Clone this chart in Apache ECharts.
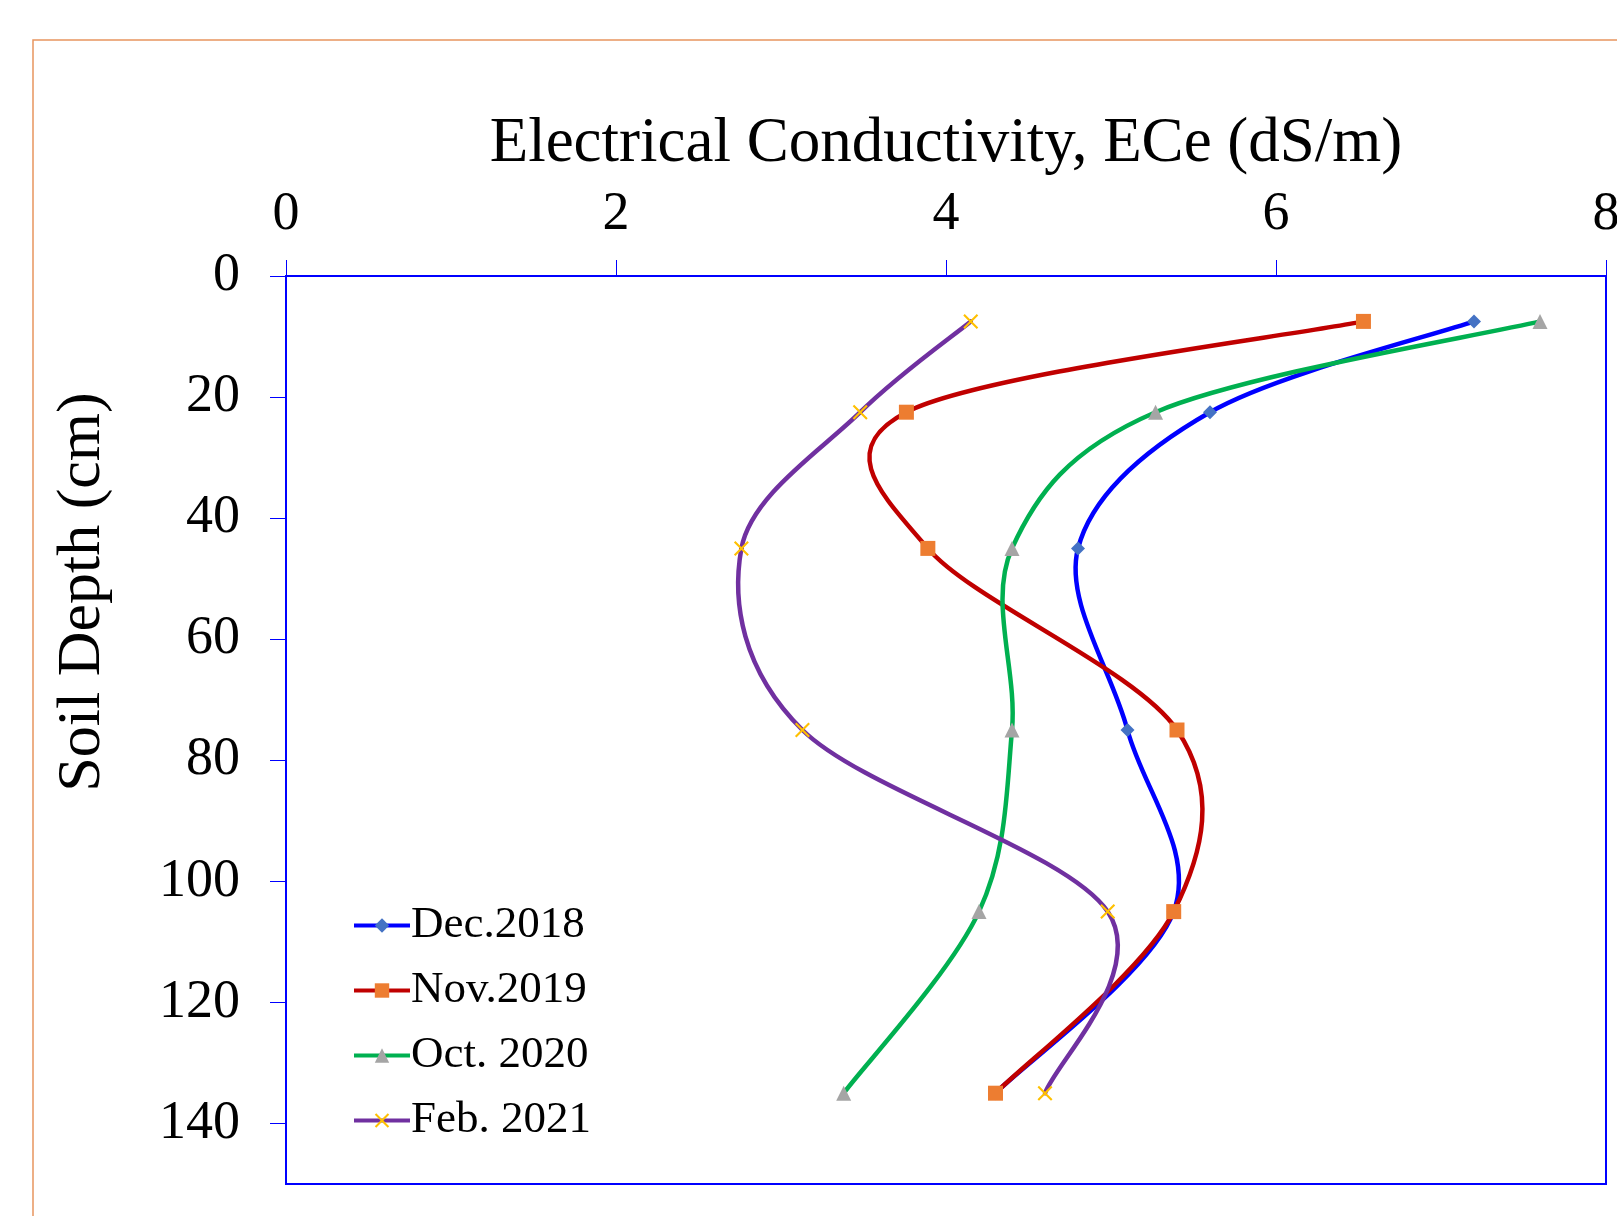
<!DOCTYPE html>
<html>
<head>
<meta charset="utf-8">
<script src="https://cdn.jsdelivr.net/npm/echarts@6/dist/echarts.min.js"></script>
<style>
  html, body { margin: 0; padding: 0; background: #fff; }
  #chart { width: 1617px; height: 1216px; }
</style>
</head>
<body>
<div id="chart"></div>
<script>
// depth of each sample (cm)
const depths = [7.5, 22.5, 45, 75, 105, 135];
const depthTicks = [0, 20, 40, 60, 80, 100, 120, 140];

// ECe values (dS/m)
const dec2018 = [7.20, 5.60, 4.80, 5.10, 5.38, 4.30];
const nov2019 = [6.53, 3.76, 3.89, 5.40, 5.38, 4.30];
const oct2020 = [7.60, 5.27, 4.40, 4.40, 4.20, 3.38];
const feb2021 = [4.15, 3.48, 2.76, 3.13, 4.98, 4.60];

const seriesNames = ['Dec.2018', 'Nov.2019', 'Oct. 2020', 'Feb. 2021'];
const lineColors = ['#0000FF', '#C00000', '#00B050', '#7030A0'];

const fontName = 'Liberation Serif';
const axisBlue = '#0000FF';
const xMark = 'path://M0,1L1,0L5,4L9,0L10,1L6,5L10,9L9,10L5,6L1,10L0,9L4,5Z';

const chart = echarts.init(document.getElementById('chart'));

function profile(values) {
  return values.map((v, i) => [v, depths[i]]);
}

// markers (and legend icon) for one date
function markerSeries(name, values, symbol, symbolColor, size, color) {
  return {
    name: name,
    type: 'line',
    data: profile(values),
    symbol: symbol,
    symbolSize: size,
    showAllSymbol: true,
    lineStyle: { color: color, width: 4, opacity: 0 },
    itemStyle: { color: symbolColor },
    z: 4
  };
}

// smooth curve like the spreadsheet one: each segment is a bezier
// whose handles follow the neighbouring points (1/6 of the chord)
function curveSeries(name, values, color) {
  const pts = profile(values);
  return {
    name: name,
    type: 'custom',
    silent: true,
    z: 2,
    data: pts.slice(0, -1),
    encode: { x: 0, y: 1 },
    renderItem: function (params, api) {
      const i = params.dataIndex;
      const c = pts.map(p => api.coord(p));
      const p0 = c[Math.max(i - 1, 0)];
      const p1 = c[i];
      const p2 = c[i + 1];
      const p3 = c[Math.min(i + 2, c.length - 1)];
      return {
        type: 'bezierCurve',
        shape: {
          x1: p1[0], y1: p1[1],
          x2: p2[0], y2: p2[1],
          cpx1: p1[0] + (p2[0] - p0[0]) / 6,
          cpy1: p1[1] + (p2[1] - p0[1]) / 6,
          cpx2: p2[0] - (p3[0] - p1[0]) / 6,
          cpy2: p2[1] - (p3[1] - p1[1]) / 6
        },
        style: { fill: null, stroke: color, lineWidth: 4.5, lineCap: 'round' }
      };
    }
  };
}

const option = {
  backgroundColor: '#fff',
  animation: false,
  grid: {
    left: 286, top: 276, right: 11, bottom: 32,
    show: true, borderColor: axisBlue, borderWidth: 2,
    containLabel: false,
    outerBoundsMode: 'none'
  },
  legend: {
    orient: 'vertical',
    left: 347, top: 898,
    itemWidth: 56, itemHeight: 18,
    itemGap: 20,
    lineStyle: { width: 4, opacity: 1 },
    textStyle: { fontFamily: fontName, fontSize: 45, color: '#000', lineHeight: 44, padding: [0, 0, 0, -4] },
    data: seriesNames
  },
  xAxis: {
    type: 'value',
    position: 'top',
    min: 0, max: 8, interval: 2,
    name: 'Electrical Conductivity, ECe (dS/m)',
    nameLocation: 'middle',
    nameGap: 100,
    nameTextStyle: { fontFamily: fontName, fontSize: 63, color: '#000' },
    axisLine: { show: true, lineStyle: { color: axisBlue, width: 2 } },
    axisTick: { show: true, inside: false, length: 16, lineStyle: { color: axisBlue, width: 1 } },
    axisLabel: { fontFamily: fontName, fontSize: 54, color: '#000', margin: 34 },
    splitLine: { show: false }
  },
  yAxis: {
    type: 'value',
    inverse: true,
    min: 0, max: 150,
    axisLine: { show: true, lineStyle: { color: axisBlue, width: 2 } },
    axisTick: { show: true, inside: false, length: 16, customValues: depthTicks, lineStyle: { color: axisBlue, width: 1 } },
    axisLabel: { fontFamily: fontName, fontSize: 54, color: '#000', margin: 46, customValues: depthTicks },
    splitLine: { show: false }
  },
  graphic: [
    {
      type: 'rect',
      shape: { x: 33, y: 40, width: 1700, height: 1300 },
      style: { fill: 'none', stroke: '#E8955F', lineWidth: 1.5 },
      silent: true
    },
    {
      type: 'text',
      x: 83, y: 592,
      rotation: Math.PI / 2,
      style: {
        text: 'Soil Depth (cm)',
        font: '62px "' + fontName + '"',
        fill: '#000',
        textAlign: 'center',
        textVerticalAlign: 'middle'
      }
    }
  ],
  series: [
    markerSeries(seriesNames[0], dec2018, 'diamond', '#4472C4', 14, lineColors[0]),
    markerSeries(seriesNames[1], nov2019, 'rect', '#ED7D31', 15, lineColors[1]),
    markerSeries(seriesNames[2], oct2020, 'triangle', '#A5A5A5', 15, lineColors[2]),
    markerSeries(seriesNames[3], feb2021, xMark, '#FFC000', 15, lineColors[3]),
    curveSeries(seriesNames[0], dec2018, lineColors[0]),
    curveSeries(seriesNames[1], nov2019, lineColors[1]),
    curveSeries(seriesNames[2], oct2020, lineColors[2]),
    curveSeries(seriesNames[3], feb2021, lineColors[3])
  ]
};

chart.setOption(option);
</script>
</body>
</html>
